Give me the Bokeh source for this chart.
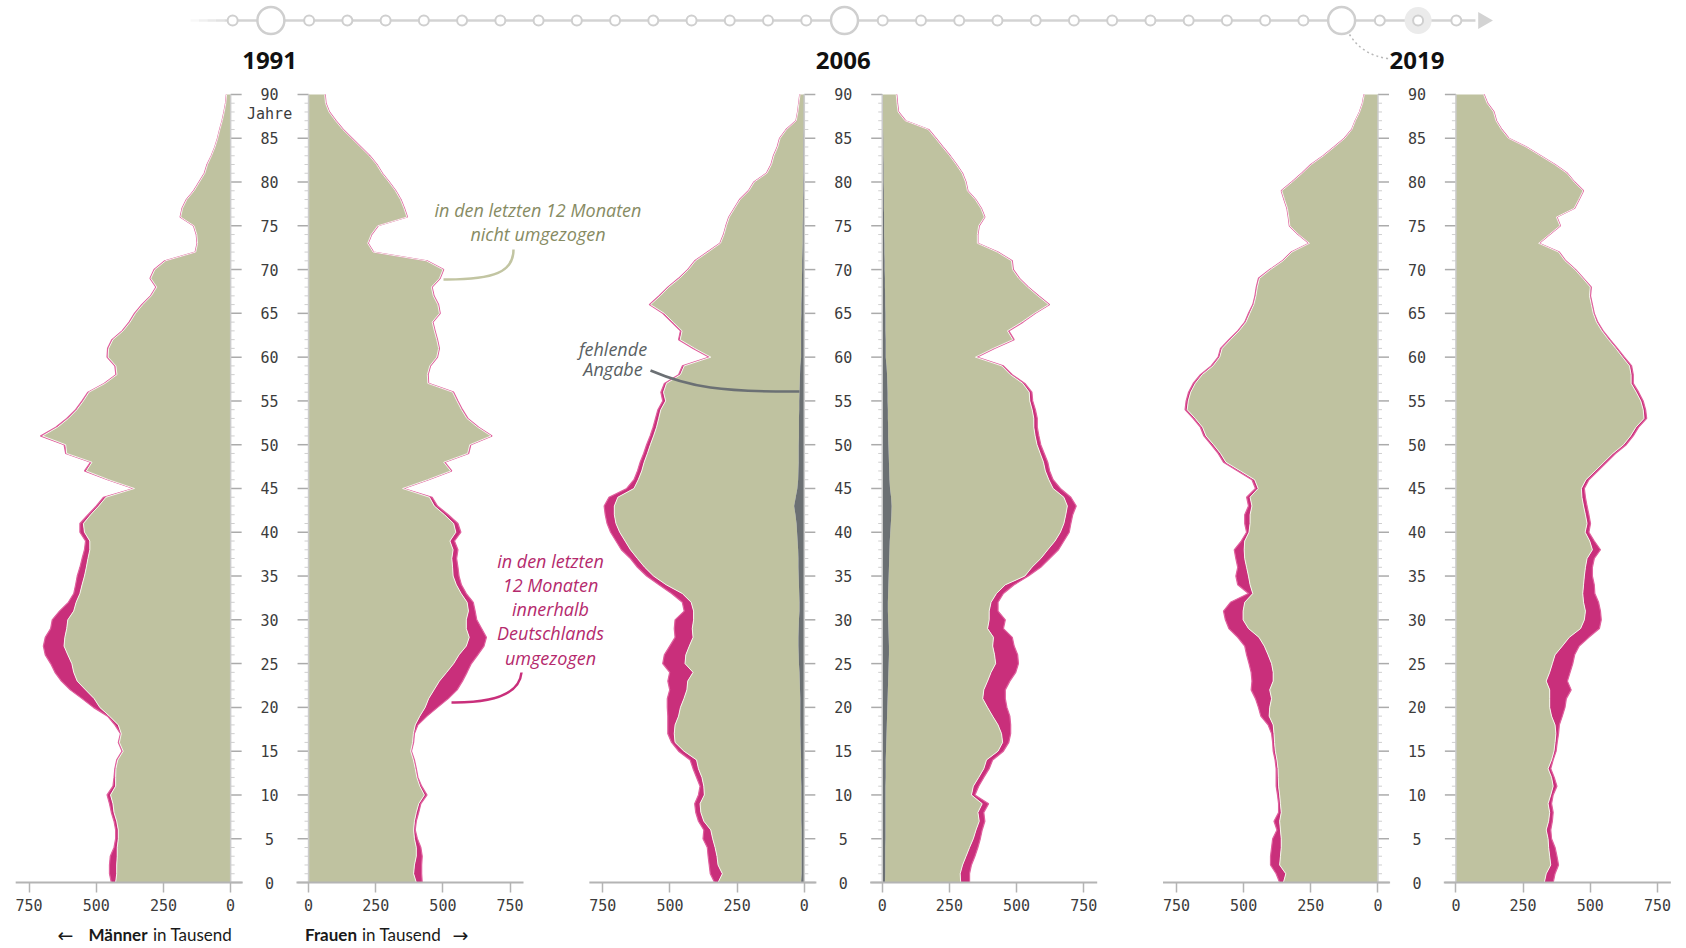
import numpy as np
from bokeh.plotting import figure
from bokeh.models import Range1d, FixedTicker
from bokeh.core.properties import value
from bokeh.embed import file_html
from bokeh.resources import INLINE

# ---------------- data (thousands of persons, ages 0..90) ----------------
ages = list(range(91))
panel_years = ["1991", "2006", "2019"]
value_ticks = [0, 250, 500, 750]
age_ticks = list(range(0, 91, 5))
timeline_years = list(range(1990, 2023))
timeline_big = [1991, 2006, 2019]
timeline_current = 2021

# outer edge = all persons; stay edge = not moved (+ missing where shown)
men_1991_total = [444,451,451,448,434,428,428,434,444,451, 460,438,434,431,424,404,418,410,431,458,
                  511,553,597,630,654,670,690,697,690,670, 664,637,604,584,577,571,561,553,544,540,
                  561,561,531,500,473,362,458,544,521,614, 620,708,651,610,577,553,531,471,427,431,
                  460,458,442,404,378,358,331,298,278,300, 285,245,132,125,128,138,188,181,165,138,
                  118,98,88,72,59,49,41,32,25,19, 16]
men_1991_stay = [428,424,424,422,422,418,418,424,434,438, 447,428,428,427,420,400,414,407,418,451,
                 487,508,540,571,584,591,606,620,617,610, 606,584,575,561,553,544,537,531,524,524,
                 544,548,521,491,464,358,454,537,516,610, 614,700,644,604,572,548,527,467,423,427,
                 456,454,438,400,374,354,327,295,275,297, 282,242,130,123,126,136,186,179,163,136,
                 116,96,86,71,58,48,40,31,24,18, 15]
women_1991_total = [423,421,421,423,418,405,397,401,410,418, 441,421,407,401,394,383,391,394,407,441,
                    480,520,553,573,590,606,630,653,662,644, 626,620,613,587,569,560,556,551,556,543,
                    567,556,520,480,460,354,447,533,507,596, 604,683,633,593,573,556,540,447,445,454,
                    480,487,480,471,463,490,484,467,460,490, 503,441,242,222,235,259,368,357,344,325,
                    301,275,255,228,195,162,129,102,78,65, 62]
women_1991_stay = [401,391,394,401,401,394,391,394,401,410, 431,414,403,397,390,380,387,390,397,414,
                   434,447,467,487,514,540,560,587,598,587, 587,595,590,568,550,538,536,533,538,526,
                   548,540,506,468,450,350,443,529,503,592, 600,679,629,589,569,552,536,444,442,451,
                   477,484,477,468,460,487,481,464,457,487, 500,438,240,220,233,257,366,355,342,323,
                   299,273,253,226,193,160,127,100,76,63, 60]

men_2006_total = [334,350,354,358,361,377,374,394,404,408, 394,388,401,414,425,468,494,508,508,508,
                  510,510,501,508,501,527,521,501,481,484, 481,447,454,494,541,587,621,647,681,701,
                  721,734,741,745,727,661,634,621,611,598, 587,574,563,554,545,527,534,521,468,454,
                  354,414,468,461,494,527,577,541,508,468, 434,408,361,314,301,292,281,261,241,208,
                  188,141,124,115,101,92,68,31,25,21, 17]
men_2006_stay = [321,305,321,325,332,341,348,374,385,388, 372,374,381,394,401,448,481,484,481,468,
                 461,448,437,434,414,444,441,428,414,417, 412,412,421,454,514,561,594,621,647,667,
                 687,701,707,707,694,634,618,605,596,584, 573,561,550,542,534,516,524,513,461,447,
                 348,408,462,455,488,521,572,536,504,464, 431,405,358,312,299,290,279,259,239,206,
                 186,139,122,113,99,90,66,30,24,20, 16]
men_2006_missing = [12,10,10,10,10,10,10,11,11,11, 11,11,12,12,12,13,14,14,15,15,
                    15,15,16,17,18,20,21,22,22,21, 20,18,18,19,20,21,22,22,23,25,
                    27,29,33,38,32,26,23,22,21,21, 21,20,20,20,19,19,18,17,16,15,
                    12,12,12,12,12,11,11,10,9,9, 8,8,7,6,6,6,5,5,5,4,
                    4,3,3,3,3,3,2,2,2,2, 2]
women_2006_total = [325,325,332,345,356,365,372,382,378,396, 345,359,378,398,411,451,471,478,478,475,
                    464,458,458,475,497,507,504,491,484,451, 458,431,431,451,491,544,590,623,656,676,
                    696,702,709,722,702,663,636,623,616,603, 590,583,577,577,570,560,557,531,484,451,
                    352,418,491,471,524,570,623,583,544,511, 488,484,431,356,356,361,382,369,348,319,
                    312,299,277,253,226,200,173,87,61,57, 54]
women_2006_stay = [292,290,299,312,325,339,349,361,356,372, 332,339,359,378,388,431,448,444,431,411,
                   392,374,378,392,405,422,418,411,414,392, 398,398,405,425,458,531,557,590,616,643,
                   663,676,683,689,676,636,620,607,600,588, 576,569,564,564,558,549,547,523,477,445,
                   347,413,486,466,519,566,619,579,541,508, 485,481,428,354,354,359,380,367,346,317,
                   310,297,275,251,224,198,171,85,59,55, 52]
women_2006_missing = [10,11,11,11,11,12,12,12,12,12, 12,12,13,13,13,14,15,16,17,18,
                      19,20,21,22,23,24,25,25,24,23, 22,21,21,22,23,24,25,26,27,28,
                      30,32,34,35,33,29,27,26,25,24, 23,22,22,21,21,20,20,19,18,16,
                      13,13,13,12,12,12,11,11,10,10, 9,9,8,8,7,7,7,6,6,6,
                      5,5,5,4,4,4,3,3,3,3, 3]

men_2019_total = [366,379,400,400,396,392,376,387,370,370, 374,379,379,379,383,390,392,396,409,436,
                  445,456,472,469,472,480,489,496,522,555, 568,575,549,482,522,529,522,529,535,509,
                  489,496,496,482,489,456,469,522,575,595, 621,648,661,688,718,714,705,688,661,621,
                  595,586,555,522,496,482,466,458,453,445, 403,356,323,257,297,330,334,339,350,360,
                  321,284,250,204,164,125,98,85,69,58, 52]
men_2019_stay = [352,343,366,363,360,360,363,366,360,363, 366,370,371,372,376,382,385,387,390,405,
                 403,396,403,390,390,396,409,423,443,482, 502,502,496,466,476,482,489,496,498,496,
                 480,476,476,469,476,446,459,512,566,586, 612,640,653,680,710,706,697,680,654,614,
                 589,580,549,517,491,477,462,454,449,441, 400,353,320,255,295,328,332,337,348,358,
                 319,282,248,202,162,123,97,84,68,57, 51]
women_2019_total = [362,369,382,376,369,356,353,359,362,356, 362,376,366,353,362,373,377,382,385,396,
                    406,411,429,415,425,435,442,459,495,534, 541,538,531,517,515,508,508,515,538,515,
                    495,501,495,488,482,478,495,528,561,594, 634,660,680,710,706,697,680,660,660,654,
                    627,601,574,548,528,515,508,501,504,475, 446,409,385,310,349,389,376,442,459,475,
                    442,415,369,316,263,197,171,151,142,118, 105]
women_2019_stay = [329,336,353,349,345,343,336,345,349,343, 353,362,356,343,356,365,369,372,369,356,
                   349,349,349,336,349,359,369,396,422,464, 478,482,475,472,475,478,482,488,508,498,
                   481,488,482,475,469,467,484,518,551,584, 624,650,670,700,697,688,671,652,652,646,
                   620,595,568,543,523,511,504,497,500,472, 443,406,382,308,347,387,374,440,457,473,
                   440,413,367,314,261,195,169,149,140,116, 103]

panels = [
    (men_1991_total, men_1991_stay, None, women_1991_total, women_1991_stay, None),
    (men_2006_total, men_2006_stay, men_2006_missing, women_2006_total, women_2006_stay, women_2006_missing),
    (men_2019_total, men_2019_stay, None, women_2019_total, women_2019_stay, None),
]

# ---------------- styling / layout ----------------
KHAKI = "#bfc2a0"
MAGENTA = "#c92f7b"
MISSING = "#6b7073"
W, H = 1684, 946
ORIGIN = 0.0                 # page offset of the figure
PX_PER_K = 0.2687
PX_PER_YEAR = 8.756
AGE0_PAGE_Y = 882.0
CENTER0_PAGE_X = 269.1
CENTERS = [0, 2135, 4270]
HALF_GAP = 145
MONO = "DejaVu Sans Mono"
SANS = "Open Sans"

X_START = -(CENTER0_PAGE_X - ORIGIN) / PX_PER_K
y_end = (AGE0_PAGE_Y - ORIGIN) / PX_PER_YEAR
y_start = (AGE0_PAGE_Y - ORIGIN - H) / PX_PER_YEAR


def gx(page_x):
    return X_START + (page_x - ORIGIN) / PX_PER_K


def gy(page_y):
    return (AGE0_PAGE_Y - page_y) / PX_PER_YEAR


TL_1991_X = 270.4
TL_STEP = 38.24
yr_start = 1991 - (TL_1991_X - ORIGIN) / TL_STEP
yr_end = yr_start + W / TL_STEP

p = figure(width=W, height=H,
           x_range=Range1d(X_START, X_START + W / PX_PER_K),
           y_range=Range1d(y_start, y_end),
           output_backend="svg", toolbar_location=None, title=None,
           y_axis_location=None, min_border=0,
           outline_line_color=None, background_fill_color="white",
           border_fill_color="white")
p.extra_x_ranges = {"yr": Range1d(yr_start, yr_end)}
p.grid.visible = False

# x axis (values in thousands), one axis at age 0 with ticks for every half pyramid
ticks, overrides = [], {}
for c in CENTERS:
    for v in value_ticks:
        for side in (-1, 1):
            t = c + side * (HALF_GAP + v)
            ticks.append(t)
            overrides[t] = str(v)
ax = p.xaxis[0]
ax.fixed_location = 0
ax.ticker = FixedTicker(ticks=sorted(ticks))
ax.major_label_overrides = overrides
ax.axis_line_color = None
ax.minor_tick_line_color = None
ax.major_tick_in = 0
ax.major_tick_out = 10
ax.major_tick_line_color = "#b4b4b4"
ax.major_tick_line_width = 1.5
ax.major_label_standoff = 6
ax.major_label_text_font = MONO
ax.major_label_text_font_size = "15px"
ax.major_label_text_color = "#3c3c3c"

# ---------------- pyramids ----------------
n = len(ages)
for c, (mt, ms, mm, wt, ws, wm) in zip(CENTERS, panels):
    for side, tot, stay, miss in ((-1, mt, ms, mm), (1, wt, ws, wm)):
        zero = c + side * HALF_GAP
        xo = zero + side * np.array(tot, dtype=float)
        xi = zero + side * np.array(stay, dtype=float)
        if miss is not None:
            xm = zero + side * np.array(miss, dtype=float)
        else:
            xm = np.full(n, float(zero))
        p.harea(y=ages, x1=xi, x2=xo, fill_color=MAGENTA)
        p.harea(y=ages, x1=xm, x2=xi, fill_color=KHAKI)
        if miss is not None:
            p.harea(y=ages, x1=np.full(n, float(zero)), x2=xm, fill_color=MISSING)
        p.line(x=xo, y=ages, line_color="#e0609e", line_width=1.2)
        p.line(x=xi, y=ages, line_color="#f6f4ec", line_width=1)

# age axis: zero lines, ticks, baselines, labels
minor = [a for a in ages if a % 5]
for c in CENTERS:
    for side in (-1, 1):
        zero = c + side * HALF_GAP
        p.segment(x0=[zero] * len(minor), y0=minor, x1=[zero - side * 15] * len(minor), y1=minor,
                  line_color="#cfcfcf", line_width=1)
        p.segment(x0=[zero] * len(age_ticks), y0=age_ticks, x1=[zero - side * 41] * len(age_ticks),
                  y1=age_ticks, line_color="#ababab", line_width=1.5)
        p.segment(x0=[zero], y0=[0], x1=[zero], y1=[90], line_color="#cccccc", line_width=1.5)
        p.segment(x0=[zero - side * 45], y0=[0], x1=[zero + side * 800], y1=[0],
                  line_color="#b4b4b4", line_width=2)
    p.text(x=[c] * len(age_ticks), y=age_ticks, text=[str(a) for a in age_ticks],
           text_align="center", text_baseline="middle", text_font=value(MONO),
           text_font_size="15px", text_color="#3c3c3c")

p.text(x=[CENTERS[0]], y=[gy(113)], text=["Jahre"], text_align="center", text_baseline="middle",
       text_font=value(MONO), text_font_size="15px", text_color="#3c3c3c")

# panel titles
p.text(x=CENTERS, y=[gy(60)] * 3, text=panel_years, text_align="center", text_baseline="middle",
       text_font=value(SANS), text_font_size="24px", text_font_style="bold", text_color="#111111")

# ---------------- timeline ----------------
ty = gy(20)
TL_GRAY = "#d3d3d3"
tail = np.linspace(1988.9, 1990.0, 6)
for i in range(5):
    p.segment(x0=[tail[i]], y0=[ty], x1=[tail[i + 1]], y1=[ty], line_color=TL_GRAY,
              line_width=2.5, line_alpha=(i + 1) / 6, x_range_name="yr")
p.segment(x0=[1990], y0=[ty], x1=[2022.5], y1=[ty], line_color=TL_GRAY, line_width=2.5,
          x_range_name="yr")
p.scatter(x=[2022.7], y=[ty], marker="triangle", size=17, angle=-np.pi / 2,
          fill_color=TL_GRAY, line_color=None, x_range_name="yr")
p.scatter(x=[timeline_current], y=[ty], size=27, fill_color="#ebebeb", line_color=None,
          x_range_name="yr")
small = [y for y in timeline_years if y not in timeline_big]
p.scatter(x=small, y=[ty] * len(small), size=10, fill_color="white", line_color="#cfcfcf",
          line_width=2, x_range_name="yr")
p.scatter(x=timeline_big, y=[ty] * len(timeline_big), size=27, fill_color="white",
          line_color="#cfcfcf", line_width=2.5, x_range_name="yr")
p.bezier(x0=[gx(1349)], y0=[gy(34)], x1=[gx(1388)], y1=[gy(58)],
         cx0=[gx(1357)], cy0=[gy(47)], cx1=[gx(1370)], cy1=[gy(56)],
         line_color="#b8b8b8", line_width=1.5, line_dash="2 3")

# ---------------- annotations ----------------
OLIVE_TXT = "#878b63"
MAG_TXT = "#b52a6d"
GRAY_TXT = "#5a5f63"


def note(lines, cx, ys, color):
    p.text(x=[gx(cx)] * len(lines), y=[gy(v) for v in ys], text=lines, text_align="center",
           text_baseline="middle", text_font=value(SANS), text_font_size="18px",
           text_font_style="italic", text_color=color)


note(["in den letzten 12 Monaten", "nicht umgezogen"], 537.5, [209, 233], OLIVE_TXT)
p.bezier(x0=[gx(513)], y0=[gy(249)], x1=[gx(443)], y1=[gy(279)],
         cx0=[gx(513)], cy0=[gy(271)], cx1=[gx(495)], cy1=[gy(279.5)],
         line_color="#c2c5a2", line_width=2.5)

note(["in den letzten", "12 Monaten", "innerhalb", "Deutschlands", "umgezogen"], 550,
     [560, 584, 608, 632, 657], MAG_TXT)
p.bezier(x0=[gx(521)], y0=[gy(672)], x1=[gx(451)], y1=[gy(702)],
         cx0=[gx(519)], cy0=[gy(693)], cx1=[gx(495)], cy1=[gy(702.5)],
         line_color=MAGENTA, line_width=2.5)

note(["fehlende", "Angabe"], 612.5, [348, 368], GRAY_TXT)
p.bezier(x0=[gx(650)], y0=[gy(370)], x1=[gx(799)], y1=[gy(391)],
         cx0=[gx(690)], cy0=[gy(387)], cx1=[gx(720)], cy1=[gy(391.5)],
         line_color="#6b7074", line_width=2.5)

# bottom axis titles
by = gy(934)
for txt, x, align, font, size, style in [
    ("\u2190", 57, "left", "DejaVu Sans", "19px", "normal"),
    ("M\u00e4nner", 147, "right", "Lato", "17px", "bold"),
    ("in Tausend", 152.5, "left", "Lato", "17px", "normal"),
    ("Frauen", 356.5, "right", "Lato", "17px", "bold"),
    ("in Tausend", 361.5, "left", "Lato", "17px", "normal"),
    ("\u2192", 452, "left", "DejaVu Sans", "19px", "normal"),
]:
    p.text(x=[gx(x)], y=[by], text=[txt], text_align=align, text_baseline="middle",
           text_font=value(font), text_font_size=size, text_font_style=style,
           text_color="#1a1a1a")

open("out.html", "w").write(file_html(p, INLINE))
